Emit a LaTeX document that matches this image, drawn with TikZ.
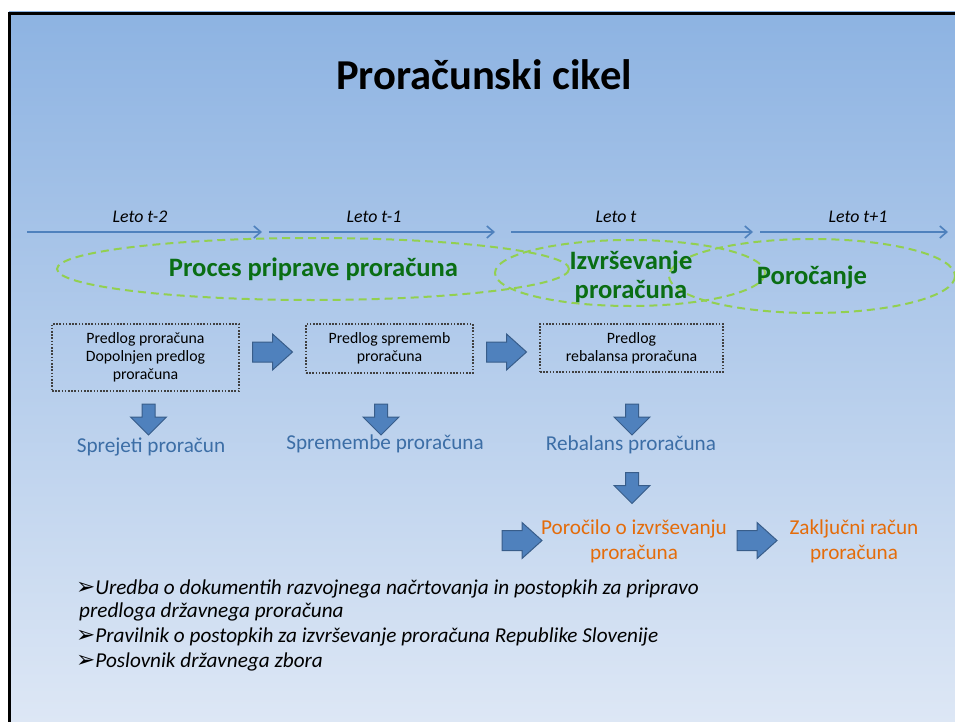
\documentclass[tikz,border=0pt]{standalone}
\usepackage{fontspec}
\setmainfont{Carlito}
\newfontfamily\symfont{DejaVu Sans}
\usetikzlibrary{arrows.meta}
\definecolor{bgtop}{HTML}{8DB3E2}
\definecolor{bgbot}{HTML}{DDE7F5}
\definecolor{linblue}{HTML}{4F81BD}
\definecolor{blkfill}{HTML}{4F81BD}
\definecolor{blkdraw}{HTML}{385D8A}
\definecolor{ellgreen}{HTML}{92D050}
\definecolor{txtgreen}{HTML}{0A6E14}
\definecolor{txtblue}{HTML}{3C6EA6}
\definecolor{txtorange}{HTML}{E46C0A}
\definecolor{dotgray}{HTML}{404040}
\tikzset{
  timeline/.style={draw=linblue, line width=1.8pt, -{Straight Barb[length=7pt,width=12pt,line width=1.6pt]}},
  leto/.style={font=\fontsize{17.8}{21}\selectfont\itshape, inner sep=0},
  ell/.style={draw=ellgreen, line width=2pt, dash pattern=on 8pt off 5pt},
  greentxt/.style={text=txtgreen, font=\fontsize{26.6}{31}\selectfont\bfseries, inner sep=0, align=center},
  dbox/.style={draw=dotgray, line width=1.6pt, dash pattern=on 1.6pt off 1.6pt, align=center, font=\fontsize{15.8}{18}\selectfont, inner sep=0},
  bluetxt/.style={text=txtblue, font=\fontsize{21.2}{25}\selectfont, inner sep=0},
  orangetxt/.style={text=txtorange, font=\fontsize{21.2}{25}\selectfont, inner sep=0, align=center},
  listtxt/.style={font=\fontsize{21.2}{24}\selectfont\itshape, inner sep=0, anchor=west},
  blk/.style={fill=blkfill, draw=blkdraw, line width=1pt, line join=miter},
  rblock/.pic={\path[blk] (-20,-10) -- (0,-10) -- (0,-18) -- (20,0) -- (0,18) -- (0,10) -- (-20,10) -- cycle;},
  dblock/.pic={\path[blk] (-6.5,-15.5) -- (6.5,-15.5) -- (6.5,-2.5) -- (18,-2.5) -- (0,15.5) -- (-18,-2.5) -- (-6.5,-2.5) -- cycle;}
}
\newcommand{\bulmark}{{\symfont\fontsize{23}{24}\selectfont ➢}}
\begin{document}
\begin{tikzpicture}[x=1pt,y=-1pt]
\useasboundingbox (0,0) rectangle (955,722);
% background and frame
\shade[top color=bgtop, bottom color=bgbot] (9,12) rectangle (955,722);
\draw[line width=3pt] (9.5,722) -- (9.5,13.5) -- (955,13.5);

% title
\node[font=\fontsize{42.6}{48}\selectfont\bfseries, inner sep=0] (title) at (484,75) {Proračunski cikel};

% timeline
\coordinate (t0) at (27,232);
\coordinate (t1) at (262,232);
\coordinate (t2s) at (269,232);
\coordinate (t2) at (495,232);
\coordinate (t3s) at (511,232);
\coordinate (t3) at (753,232);
\coordinate (t4s) at (760,232);
\coordinate (t4) at (948,232);
\draw[timeline] (t0) -- (t1);
\draw[timeline] (t2s) -- (t2);
\draw[timeline] (t3s) -- (t3);
\draw[timeline] (t4s) -- (t4);
\node[leto] (l1) at (140,217) {Leto t-2};
\node[leto] (l2) at (374,217) {Leto t-1};
\node[leto] (l3) at (616,217) {Leto t};
\node[leto] (l4) at (858,217) {Leto t+1};

% ellipses
\draw[ell] (313,269) ellipse [x radius=256, y radius=31];
\draw[ell] (630,273) ellipse [x radius=135, y radius=33];
\draw[ell] (812,276) ellipse [x radius=143, y radius=37];
\node[greentxt] (proc) at (313.5,269) {Proces priprave proračuna};
\node[greentxt] (izv) at (631,262) {Izvrševanje};
\node[greentxt] (izv2) at (631,292) {proračuna};
\node[greentxt] (por) at (812,277) {Poročanje};

% boxes
\node[dbox, minimum width=187, minimum height=67] (b1) at (145.5,357.5) {Predlog proračuna\\Dopolnjen predlog\\proračuna};
\node[dbox, minimum width=167, minimum height=49] (b2) at (389.5,348.5) {Predlog sprememb\\proračuna};
\node[dbox, minimum width=183, minimum height=48] (b3) at (631.5,348) {Predlog\\rebalansa proračuna};

% block arrows
\pic at (272.5,352) {rblock};
\pic at (506.5,352) {rblock};
\pic at (148.5,419.5) {dblock};
\pic at (381,419.5) {dblock};
\pic at (632,419.5) {dblock};
\pic at (632,488) {dblock};
\pic at (522,540.5) {rblock};
\pic at (757,540.5) {rblock};

% result labels
\node[bluetxt] (s1) at (151,447) {Sprejeti proračun};
\node[bluetxt] (s2) at (385,444) {Spremembe proračuna};
\node[bluetxt] (s3) at (631,445) {Rebalans proračuna};
\node[orangetxt] (o1) at (634,541) {Poročilo o izvrševanju\\proračuna};
\node[orangetxt] (o2) at (854,541) {Zaključni račun\\proračuna};

% list
\node[listtxt] (li1) at (76,589) {\bulmark Uredba o dokumentih razvojnega načrtovanja in postopkih za pripravo};
\node[listtxt] (li1b) at (79,612) {predloga državnega proračuna};
\node[listtxt] (li2) at (76,637) {\bulmark Pravilnik o postopkih za izvrševanje proračuna Republike Slovenije};
\node[listtxt] (li3) at (76,662) {\bulmark Poslovnik državnega zbora};
\end{tikzpicture}
\end{document}
